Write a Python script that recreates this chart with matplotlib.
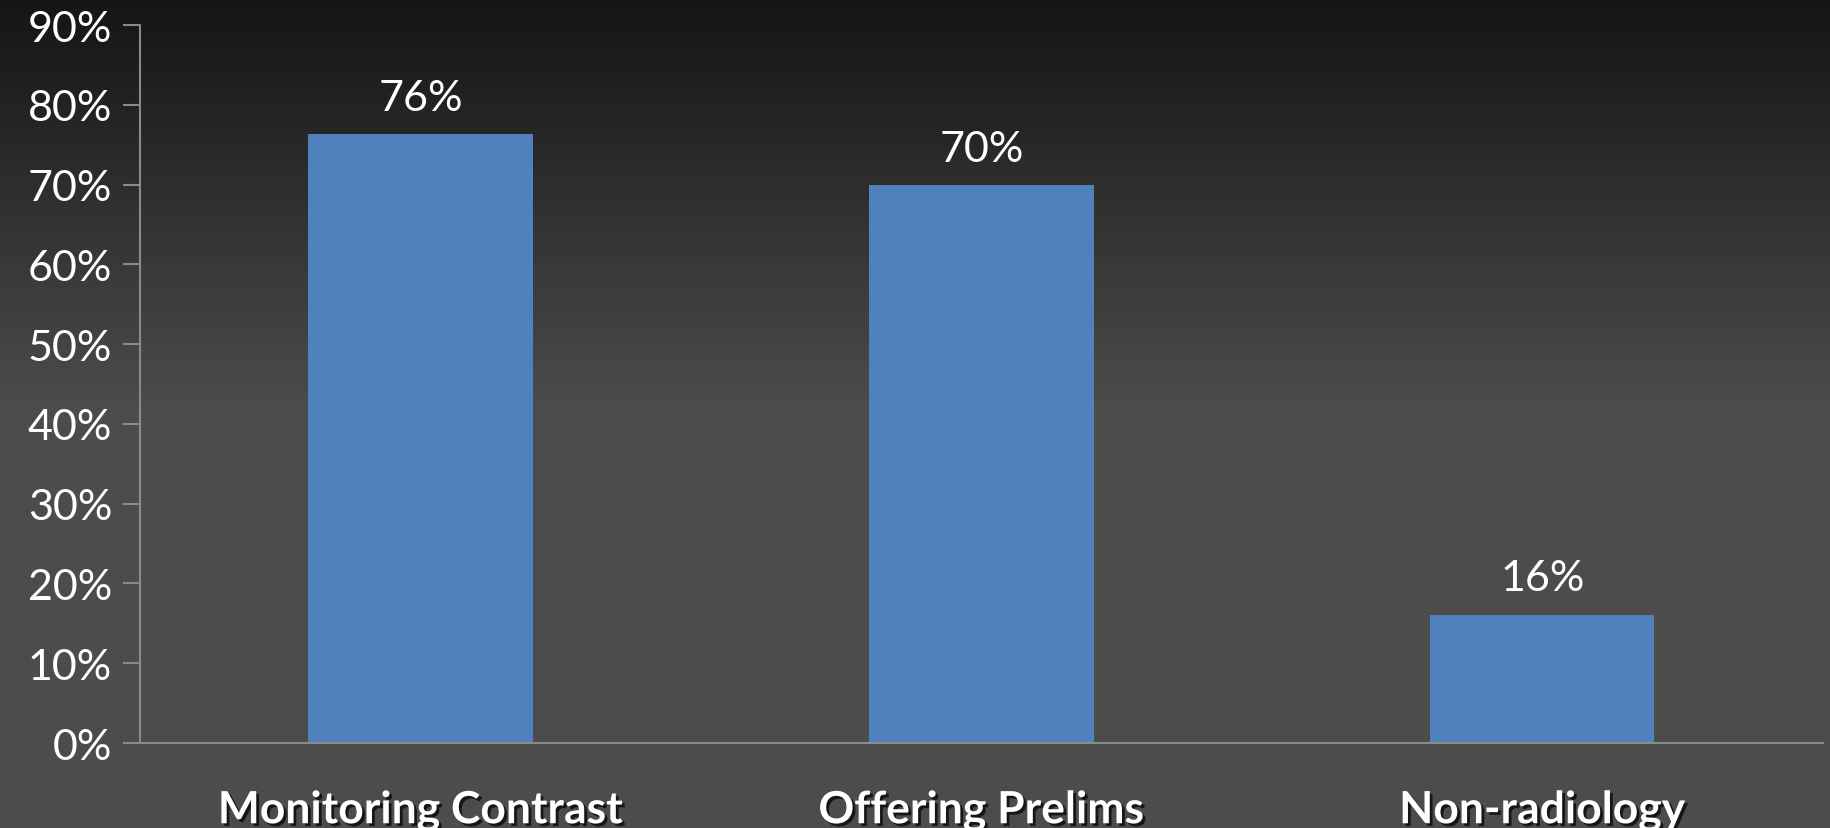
import numpy as np
import matplotlib.pyplot as plt
import matplotlib.patheffects as pe
from matplotlib.colors import LinearSegmentedColormap

categories = ['Monitoring Contrast', 'Offering Prelims', 'Non-radiology']
values = [0.763, 0.699, 0.161]
value_labels = ['76%', '70%', '16%']
yticks = [0, 0.1, 0.2, 0.3, 0.4, 0.5, 0.6, 0.7, 0.8, 0.9]

plt.rcParams['font.family'] = ['Lato', 'DejaVu Sans']

fig = plt.figure(figsize=(18.3, 8.29), dpi=100)

# background gradient: dark at top, gray from the middle down
bg = fig.add_axes([0, 0, 1, 1], zorder=0)
grad = np.concatenate([np.linspace(0, 1, 50), np.ones(50)])[:, None]
cmap = LinearSegmentedColormap.from_list('bg', ['#151515', '#4c4c4c'])
bg.imshow(grad, aspect='auto', cmap=cmap, extent=[0, 1, 0, 1], origin='upper')
bg.axis('off')

ax = fig.add_axes([0.0765, 0.1025, 0.9195, 0.8661], zorder=1)
ax.patch.set_alpha(0)

x = np.arange(len(categories))
ax.bar(x, values, width=0.4, color='#4f81bd', zorder=2)

for xi, v, lab in zip(x, values, value_labels):
    ax.text(xi, v + 0.022, lab, ha='center', va='bottom', color='white', fontsize=31)

ax.set_xlim(-0.5, 2.5)
ax.set_ylim(0, 0.9)
ax.set_yticks(yticks)
ax.set_yticklabels([f'{int(round(t * 100))}%' for t in yticks], color='white', fontsize=31)
ax.tick_params(axis='y', length=12, width=1.5, color='#8a8a8a', pad=8)
ax.set_xticks(x)
ax.set_xticklabels(categories, color='white', fontsize=32, fontweight='bold')
ax.tick_params(axis='x', length=0, pad=34)
for t in ax.get_xticklabels():
    t.set_path_effects([pe.withSimplePatchShadow(offset=(2, -2), shadow_rgbFace='black', alpha=0.7)])

for s in ['top', 'right']:
    ax.spines[s].set_visible(False)
ax.spines['left'].set_color('#8a8a8a')
ax.spines['bottom'].set_color('#8a8a8a')
ax.spines['left'].set_linewidth(1.5)
ax.spines['bottom'].set_linewidth(1.5)

fig.savefig('out.png', dpi=100)
